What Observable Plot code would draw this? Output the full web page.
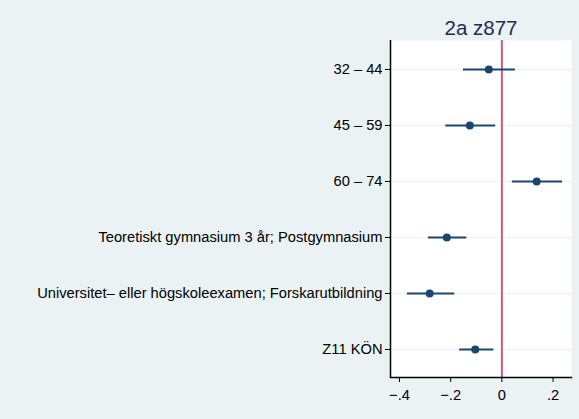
<!DOCTYPE html>
<html><head><meta charset="utf-8">
<script src="https://cdn.jsdelivr.net/npm/d3@7"></script>
<script src="https://cdn.jsdelivr.net/npm/@observablehq/plot@0.6"></script>
<style>
body{margin:0;background:#EAF2F3;}
svg{display:block;}
</style></head>
<body><div id="chart"></div>
<script>
const titleText = "2a z877";
const categories = ["32 – 44","45 – 59","60 – 74","Teoretiskt gymnasium 3 år; Postgymnasium","Universitet– eller högskoleexamen; Forskarutbildning","Z11 KÖN"];
const estimates = [-0.051,-0.125,0.136,-0.215,-0.282,-0.104];
const lower = [-0.152,-0.221,0.039,-0.289,-0.371,-0.167];
const upper = [0.051,-0.026,0.235,-0.139,-0.186,-0.033];
const xTicks = [-0.4,-0.2,0,0.2];

const data = categories.map((c,i)=>({cat:c, est:estimates[i], lo:lower[i], hi:upper[i]}));
const fmt = d => d===0 ? "0" : (d<0?"−":"") + String(Math.abs(d)).replace(/^0/,"");

const chart = Plot.plot({
  width:579, height:419,
  marginLeft:390, marginRight:8, marginTop:40, marginBottom:42,
  style:{background:"#EAF2F3", fontFamily:"'Liberation Sans', Arial, sans-serif", fontSize:"14.7px", color:"#000"},
  x:{domain:[-0.435,0.272], ticks:xTicks, tickFormat:fmt, label:null},
  y:{domain:categories, type:"point", padding:0.5, label:null},
  marks:[
    Plot.frame({fill:"white", stroke:null}),
    Plot.gridY({stroke:"#EAF2F3", strokeOpacity:1, strokeWidth:1.2}),
    Plot.ruleX([0],{stroke:"#D6577A", strokeWidth:2}),
    Plot.link(data,{x1:"lo", x2:"hi", y1:"cat", y2:"cat", stroke:"#1A476F", strokeWidth:2}),
    Plot.dot(data,{x:"est", y:"cat", r:4, fill:"#1A476F", stroke:null}),
    Plot.axisX({ticks:xTicks, tickFormat:fmt, tickSize:5, tickPadding:7, fontSize:14.7, label:null, stroke:"#000"}),
    Plot.axisY({tickSize:5, tickPadding:3, fontSize:14.7, label:null, stroke:"#000"}),
    Plot.ruleX([-0.435],{stroke:"#000", strokeWidth:1.5}),
    Plot.frame({anchor:"bottom", stroke:"#000", strokeWidth:1.5}),
    Plot.text([titleText],{frameAnchor:"top", lineAnchor:"middle", dy:-12, fontSize:20.5, fill:"#1E2D53"})
  ]
});
document.getElementById("chart").appendChild(chart);
</script></body></html>
